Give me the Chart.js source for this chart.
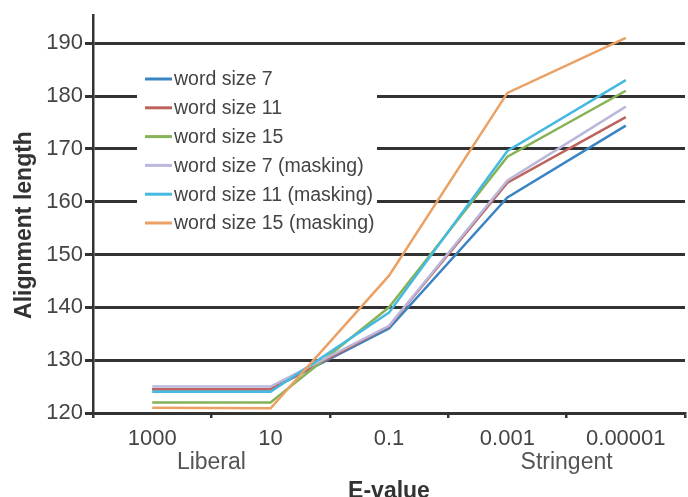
<!DOCTYPE html>
<html>
<head>
<meta charset="utf-8">
<script src="https://cdn.jsdelivr.net/npm/chart.js@4"></script>
<style>
  html, body { margin: 0; padding: 0; background: #fff; }
  #wrap { width: 688px; height: 497px; position: relative; }
</style>
</head>
<body>
<div id="wrap"><canvas id="c" width="688" height="497"></canvas></div>
<script>
const categories = ['1000', '10', '0.1', '0.001', '0.00001'];
const seriesNames = ['word size 7', 'word size 11', 'word size 15', 'word size 7 (masking)', 'word size 11 (masking)', 'word size 15 (masking)'];
const ws7   = [124.5, 124.5, 136.0, 160.8, 174.4];
const ws11  = [124.5, 124.5, 136.4, 163.6, 176.0];
const ws15  = [122.0, 122.0, 140.0, 168.5, 181.0];
const ws7m  = [125.0, 125.0, 136.5, 164.0, 178.0];
const ws11m = [124.0, 124.0, 139.0, 169.6, 183.0];
const ws15m = [121.0, 120.9, 146.0, 180.6, 191.0];
const seriesColors = ['#3a84c4', '#be625d', '#86b356', '#b9b8dc', '#45b9e1', '#eba064'];
const yTicks = [120, 130, 140, 150, 160, 170, 180, 190];
const xTitle = 'E-value';
const yTitle = 'Alignment length';
const leftNote = 'Liberal';
const rightNote = 'Stringent';

const allSeries = [ws7, ws11, ws15, ws7m, ws11m, ws15m];
const FONT = '"Liberation Sans", Arial, sans-serif';

const legendPlugin = {
  id: 'boxLegend',
  beforeDatasetsDraw(chart) {
    const ctx = chart.ctx;
    ctx.save();
    ctx.fillStyle = '#ffffff';
    ctx.fillRect(137, 62, 240, 178);
    const y0 = 79, dy = 28.8;
    ctx.font = '19.5px ' + FONT;
    ctx.textBaseline = 'middle';
    ctx.textAlign = 'left';
    seriesNames.forEach((name, i) => {
      const y = y0 + i * dy;
      ctx.strokeStyle = seriesColors[i];
      ctx.lineWidth = 3;
      ctx.beginPath();
      ctx.moveTo(145, y);
      ctx.lineTo(172, y);
      ctx.stroke();
      ctx.fillStyle = '#444444';
      ctx.fillText(name, 174, y + 1);
    });
    ctx.restore();
  },
  afterDraw(chart) {
    const ctx = chart.ctx;
    const xs = chart.scales.x;
    const area = chart.chartArea;
    ctx.save();
    ctx.fillStyle = '#555555';
    ctx.font = '23px ' + FONT;
    ctx.textAlign = 'center';
    ctx.textBaseline = 'middle';
    const midL = (xs.getPixelForValue(0) + xs.getPixelForValue(1)) / 2;
    const midR = (xs.getPixelForValue(3) + xs.getPixelForValue(4)) / 2;
    ctx.fillText(leftNote, midL, 463);
    ctx.fillText(rightNote, midR, 463);
    ctx.fillStyle = '#333333';
    ctx.font = 'bold 23px ' + FONT;
    ctx.textBaseline = 'alphabetic';
    ctx.fillText(xTitle, (area.left + area.right) / 2, 498);
    ctx.translate(25, 225);
    ctx.rotate(-Math.PI / 2);
    ctx.textBaseline = 'middle';
    ctx.fillText(yTitle, 0, 0);
    ctx.restore();
  }
};

new Chart(document.getElementById('c'), {
  type: 'line',
  data: {
    labels: categories,
    datasets: allSeries.map((d, i) => ({
      label: seriesNames[i],
      data: d,
      borderColor: seriesColors[i],
      backgroundColor: seriesColors[i],
      borderWidth: 2.5,
      pointRadius: 0,
      tension: 0,
      fill: false,
      order: 5 - i
    }))
  },
  options: {
    responsive: false,
    animation: false,
    events: [],
    layout: { padding: { left: 0, right: 3, top: 15, bottom: 0 } },
    plugins: {
      legend: { display: false },
      tooltip: { enabled: false }
    },
    scales: {
      x: {
        type: 'category',
        offset: true,
        afterFit(scale) { scale.height = 84; },
        grid: {
          offset: true,
          drawOnChartArea: false,
          drawTicks: true,
          tickLength: 5,
          color: '#333333',
          lineWidth: 2.5
        },
        border: { display: true, color: '#333333', width: 2.5 },
        ticks: {
          color: '#444444',
          font: { size: 22, family: FONT },
          padding: 8,
          maxRotation: 0
        }
      },
      y: {
        min: 120,
        max: 195.3,
        afterFit(scale) { scale.width = 93; },
        afterBuildTicks(scale) { scale.ticks = yTicks.map(v => ({ value: v })); },
        grid: {
          color: '#333333',
          lineWidth: 3,
          tickLength: 8,
          drawTicks: true
        },
        border: { display: true, color: '#333333', width: 2.5 },
        ticks: {
          color: '#444444',
          font: { size: 22, family: FONT },
          padding: 2
        }
      }
    }
  },
  plugins: [legendPlugin]
});
</script>
</body>
</html>
